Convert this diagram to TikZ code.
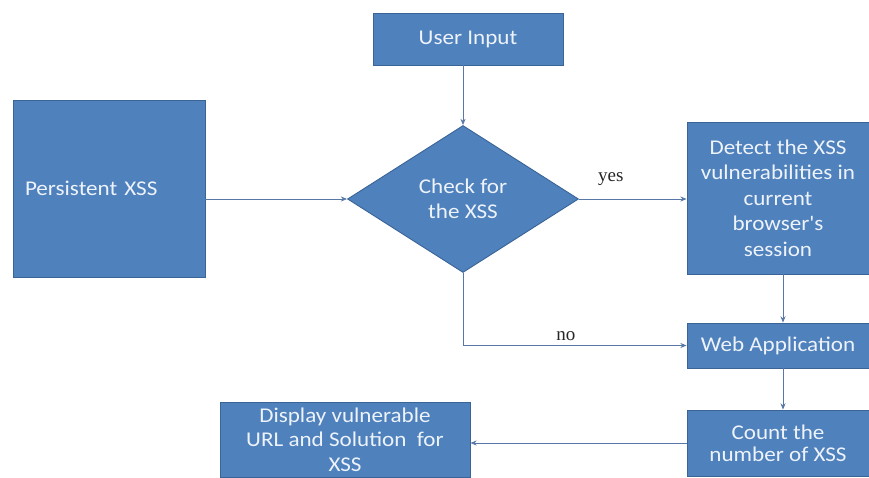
\documentclass[tikz,border=0pt]{standalone}
\usepackage{fontspec}
\setmainfont{Liberation Serif}
\newfontfamily\boxfont{Carlito}[FakeStretch=1.1]
\usepackage{tikz}
\usetikzlibrary{arrows.meta,positioning,shapes.geometric}
\definecolor{boxc}{HTML}{4F81BD}
\definecolor{edgec}{HTML}{3A6496}
\definecolor{linec}{HTML}{5878A8}
\definecolor{txtc}{HTML}{EEF3FA}
\tikzset{
  ar/.style={-{Stealth[length=2.2mm,width=1.8mm]},line width=0.8pt,linec},
  box/.style={draw=edgec,line width=0.9pt,fill=boxc,text=txtc,align=center,inner sep=2pt,font=\boxfont\fontsize{21}{25.5}\selectfont},
  dmd/.style={box,diamond,inner sep=0pt},
  lbl/.style={font=\fontsize{19}{22}\selectfont,text=black!85}
}
\begin{document}
\begin{tikzpicture}[x=1pt,y=1pt]
\useasboundingbox (0,0) rectangle (869,477);
% boxes
\node[box,minimum width=190pt,minimum height=52pt] (user) at (468,438) {User Input};
\node[box,align=left,text width=168pt,inner sep=12pt,minimum height=177pt] (persist) at (109,288.5) {Persistent XSS};
\node[dmd,minimum width=231pt,minimum height=147pt] (check) at (463,278) {Check for\\the XSS};
\node[box,minimum width=182pt,minimum height=152pt] (detect) at (778,279) {Detect the XSS\\vulnerabilities in\\current\\browser's\\session};
\node[box,minimum width=182pt,minimum height=45pt] (webapp) at (778,131.5) {Web Application};
\node[box,minimum width=182pt,minimum height=66pt,font=\boxfont\fontsize{21}{22}\selectfont] (count) at (778,34) {Count the\\number of XSS};
\node[box,minimum width=250pt,minimum height=75pt,font=\boxfont\fontsize{21}{24.5}\selectfont] (display) at (345,37.5) {Display vulnerable\\URL and Solution\ \ for\\XSS};
% connectors
\draw[ar] (user.south -| check.north) -- (check.north);
\draw[ar] (persist.east |- check.west) -- (check.west);
\draw[ar] (check.east) -- (check.east -| detect.west) node[lbl,midway,above=10pt,xshift=-22pt] (yes) {yes};
\draw[ar] (detect.south -| 783,0) -- (webapp.north -| 783,0);
\draw[ar] (check.south) |- (webapp.west) node[lbl,pos=0.73,above=1pt] (no) {no};
\draw[ar] (webapp.south -| 783,0) -- (count.north -| 783,0);
\draw[ar] (count.west) -- (display.east |- count.west);
\end{tikzpicture}
\end{document}
